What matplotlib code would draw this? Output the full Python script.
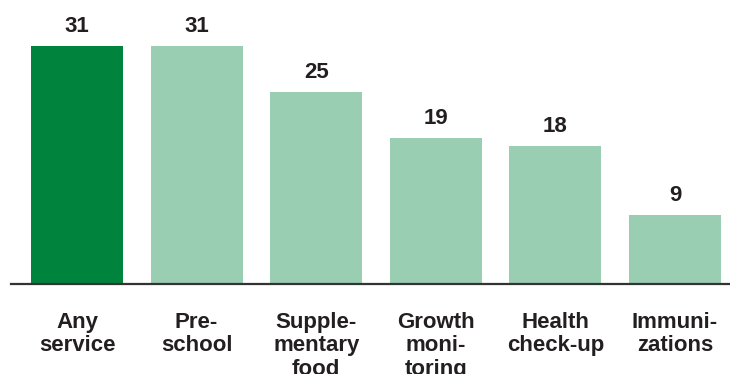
import matplotlib
matplotlib.use("Agg")
import matplotlib.pyplot as plt
import matplotlib.transforms as mtransforms

categories = ["Any\nservice", "Pre-\nschool", "Supple-\nmentary\nfood",
              "Growth\nmoni-\ntoring", "Health\ncheck-up", "Immuni-\nzations"]
values = [31, 31, 25, 19, 18, 9]
colors = ["#00843D", "#99CEB3", "#99CEB3", "#99CEB3", "#99CEB3", "#99CEB3"]

plt.rcParams["font.family"] = ["Liberation Sans", "DejaVu Sans"]
text_color = "#231F20"

fig = plt.figure(figsize=(7.30, 3.74), dpi=100)
ax = fig.add_axes([11 / 730, 90 / 374, 719 / 730, 284 / 374])

x = list(range(len(values)))
ax.bar(x, values, width=0.77, color=colors, zorder=2)

ax.set_xlim(-0.552, 5.46)
ax.set_ylim(0, 37.0)

for side in ["top", "right", "left"]:
    ax.spines[side].set_visible(False)
ax.spines["bottom"].set_color("#333333")
ax.spines["bottom"].set_linewidth(1.6)
ax.set_xticks([])
ax.set_yticks([])

for xi, v in zip(x, values):
    ax.annotate(str(v), xy=(xi, v), xytext=(0, 6.5), textcoords="offset points",
                ha="center", va="bottom", fontsize=16, fontweight="bold",
                color=text_color)

# category names sit below the baseline; the third line runs off the bottom edge
trans = mtransforms.blended_transform_factory(ax.transData, ax.transAxes)
for xi, label in zip(x, categories):
    ax.annotate(label, xy=(xi, 0), xycoords=trans, xytext=(0, -20),
                textcoords="offset points", ha="center", va="top",
                fontsize=16, fontweight="bold", color=text_color,
                linespacing=1.15, annotation_clip=False)

fig.savefig("out.png", dpi=100)
